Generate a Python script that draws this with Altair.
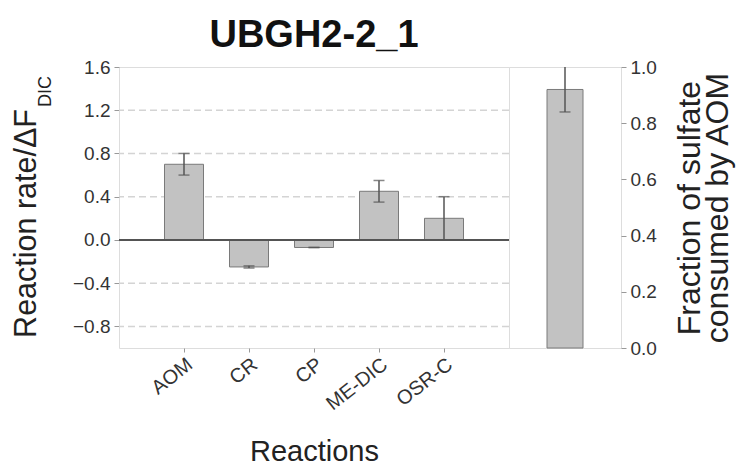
import altair as alt
import pandas as pd

# ---- data ----
reactions = ["AOM", "CR", "CP", "ME-DIC", "OSR-C"]
rates = [0.70, -0.25, -0.07, 0.45, 0.20]
rate_err = [0.10, 0.01, 0.0, 0.10, 0.20]

frac_cat = ["AOM"]
frac_value = [0.92]
frac_err = [0.08]

left_ticks = [-0.8, -0.4, 0.0, 0.4, 0.8, 1.2, 1.6]
grid_values = [1.2, 0.8, 0.4, -0.4, -0.8]
right_ticks = [0.0, 0.2, 0.4, 0.6, 0.8, 1.0]

title_text = "UBGH2-2_1"
y_title_main = ["Reaction rate/ΔF"]
y_title_sub = ["DIC"]
x_title = "Reactions"
right_title = ["Fraction of sulfate", "consumed by AOM"]

FONT = "Liberation Sans"
BAR_FILL = "#c2c2c2"
BAR_STROKE = "#7a7a7a"
ERR = "#555555"

left_df = pd.DataFrame({
    "reaction": reactions,
    "rate": rates,
    "lo": [r - e for r, e in zip(rates, rate_err)],
    "hi": [r + e for r, e in zip(rates, rate_err)],
})
right_df = pd.DataFrame({
    "cat": frac_cat,
    "frac": frac_value,
    "lo": [v - e for v, e in zip(frac_value, frac_err)],
    "hi": [min(1.0, v + e) for v, e in zip(frac_value, frac_err)],
})
grid_df = pd.DataFrame({"v": grid_values})

yscale = alt.Scale(domain=[-1.0, 1.6], nice=False, zero=False)
xscale = alt.Scale(paddingInner=0.4, paddingOuter=0.7)

x_enc = alt.X(
    "reaction:N", sort=reactions, scale=xscale,
    axis=alt.Axis(
        title=x_title, titleFontSize=29, titleFontWeight="normal",
        titleColor="#222", titlePadding=24,
        labelAngle=-38, labelAlign="right", labelBaseline="top",
        labelFontSize=20, labelColor="#333", labelPadding=2,
        tickSize=4, tickColor="#999", domain=False, grid=False,
    ),
)

base = alt.Chart(left_df)

grid = alt.Chart(grid_df).mark_rule(
    color="#d4d4d4", strokeDash=[7, 4], strokeWidth=1.5
).encode(y=alt.Y("v:Q", scale=yscale))

bars = base.mark_bar(
    color=BAR_FILL, stroke=BAR_STROKE, strokeWidth=1
).encode(
    x=x_enc,
    y=alt.Y(
        "rate:Q", scale=yscale,
        axis=alt.Axis(
            title=None, values=left_ticks, format=".1f",
            labelFontSize=19, labelColor="#333", labelPadding=4,
            tickSize=5, tickColor="#999", domain=False, grid=False,
        ),
    ),
)

zero = alt.Chart(left_df).mark_rule(color="#555", strokeWidth=1.5).encode(
    y=alt.datum(0, scale=yscale)
)

err_rule = base.mark_rule(color=ERR, strokeWidth=1.5).encode(
    x=alt.X("reaction:N", sort=reactions), y="lo:Q", y2="hi:Q"
)
cap_hi = base.mark_tick(color=ERR, thickness=1.5, size=11, orient="horizontal").encode(
    x=alt.X("reaction:N", sort=reactions), y="hi:Q"
)
cap_lo = base.mark_tick(color=ERR, thickness=1.5, size=11, orient="horizontal").encode(
    x=alt.X("reaction:N", sort=reactions), y="lo:Q"
)

ytitle_main = alt.Chart(pd.DataFrame({"t": y_title_main})).mark_text(
    angle=270, align="right", baseline="alphabetic", fontSize=30.5,
    font=FONT, color="#222"
).encode(text="t:N", x=alt.value(-83), y=alt.value(42))

ytitle_sub = alt.Chart(pd.DataFrame({"t": y_title_sub})).mark_text(
    angle=270, align="left", baseline="alphabetic", fontSize=18,
    font=FONT, color="#222"
).encode(text="t:N", x=alt.value(-68), y=alt.value(40))

left = alt.layer(
    grid, bars, zero, err_rule, cap_hi, cap_lo, ytitle_main, ytitle_sub
).properties(
    width=390, height=281,
    title=alt.TitleParams(
        title_text, fontSize=38, fontWeight="bold", anchor="middle",
        font=FONT, color="#111", offset=3,
    ),
)

rbase = alt.Chart(right_df)
rscale = alt.Scale(domain=[0, 1], nice=False)
rx = alt.X("cat:N", axis=None, scale=alt.Scale(paddingInner=0.0, paddingOuter=0.0))

rbars = rbase.mark_bar(
    color=BAR_FILL, stroke=BAR_STROKE, strokeWidth=1, size=36
).encode(
    x=rx,
    y=alt.Y(
        "frac:Q", scale=rscale,
        axis=alt.Axis(
            orient="right", values=right_ticks, format=".1f",
            labelFontSize=19, labelColor="#333", labelPadding=4,
            tickSize=5, tickColor="#999", domain=False, grid=False,
            title=right_title, titleFontSize=32, titleFontWeight="normal",
            titleColor="#222", titleAngle=270, titlePadding=22,
            titleLineHeight=28,
        ),
    ),
)
rerr = rbase.mark_rule(color=ERR, strokeWidth=1.5).encode(x=rx, y="lo:Q", y2="hi:Q")
rcap = rbase.mark_tick(color=ERR, thickness=1.5, size=11, orient="horizontal").encode(
    x=rx, y="lo:Q"
)

right = alt.layer(rbars, rerr, rcap).properties(width=112, height=281)

chart = alt.hconcat(left, right, spacing=0, bounds="flush").configure_view(
    stroke="#9a9a9a", strokeWidth=2
).configure(
    font=FONT, padding={"left": 3, "top": 8, "right": 5, "bottom": 0}
)

chart.save("out.html", embed_options={"renderer": "svg", "actions": False})
